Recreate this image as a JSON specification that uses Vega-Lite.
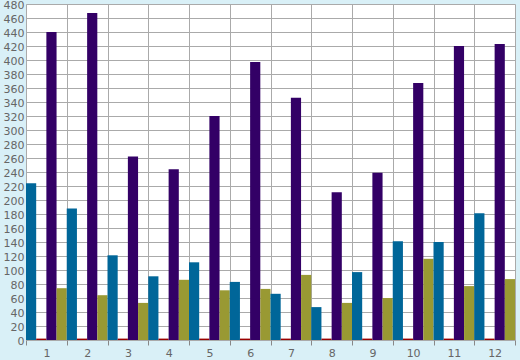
{
  "$schema": "https://vega.github.io/schema/vega-lite/v6.json",
  "autosize": {"type": "none"},
  "width": 489,
  "height": 336,
  "padding": {"left": 26, "top": 4, "right": 5, "bottom": 20},
  "background": "#d9f0f7",
  "config": {
    "view": {"fill": "#ffffff", "stroke": null},
    "axis": {"labelFont": "DejaVu Sans", "labelFontSize": 11, "labelColor": "#666666", "gridColor": "#aaaaaa", "gridOpacity": 1, "gridWidth": 1, "domainColor": "#aaaaaa", "tickColor": "#888888"}
  },
  "data": {"values": [
    {"group": 1, "series": "B", "value": 224}, {"group": 1, "series": "R", "value": 2}, {"group": 1, "series": "P", "value": 440}, {"group": 1, "series": "O", "value": 74},
    {"group": 2, "series": "B", "value": 188}, {"group": 2, "series": "R", "value": 2}, {"group": 2, "series": "P", "value": 467}, {"group": 2, "series": "O", "value": 64},
    {"group": 3, "series": "B", "value": 121}, {"group": 3, "series": "R", "value": 2}, {"group": 3, "series": "P", "value": 262}, {"group": 3, "series": "O", "value": 53},
    {"group": 4, "series": "B", "value": 91}, {"group": 4, "series": "R", "value": 2}, {"group": 4, "series": "P", "value": 244}, {"group": 4, "series": "O", "value": 86},
    {"group": 5, "series": "B", "value": 111}, {"group": 5, "series": "R", "value": 2}, {"group": 5, "series": "P", "value": 320}, {"group": 5, "series": "O", "value": 71},
    {"group": 6, "series": "B", "value": 83}, {"group": 6, "series": "R", "value": 2}, {"group": 6, "series": "P", "value": 397}, {"group": 6, "series": "O", "value": 73},
    {"group": 7, "series": "B", "value": 66}, {"group": 7, "series": "R", "value": 2}, {"group": 7, "series": "P", "value": 346}, {"group": 7, "series": "O", "value": 93},
    {"group": 8, "series": "B", "value": 47}, {"group": 8, "series": "R", "value": 2}, {"group": 8, "series": "P", "value": 211}, {"group": 8, "series": "O", "value": 53},
    {"group": 9, "series": "B", "value": 97}, {"group": 9, "series": "R", "value": 2}, {"group": 9, "series": "P", "value": 239}, {"group": 9, "series": "O", "value": 60},
    {"group": 10, "series": "B", "value": 141}, {"group": 10, "series": "R", "value": 2}, {"group": 10, "series": "P", "value": 367}, {"group": 10, "series": "O", "value": 116},
    {"group": 11, "series": "B", "value": 140}, {"group": 11, "series": "R", "value": 2}, {"group": 11, "series": "P", "value": 420}, {"group": 11, "series": "O", "value": 77},
    {"group": 12, "series": "B", "value": 181}, {"group": 12, "series": "R", "value": 2}, {"group": 12, "series": "P", "value": 423}, {"group": 12, "series": "O", "value": 87}
  ]},
  "mark": {"type": "bar"},
  "encoding": {
    "x": {
      "field": "group", "type": "ordinal", "title": null,
      "scale": {"paddingInner": 0, "paddingOuter": 0},
      "axis": {"labelAngle": 0, "tickBand": "extent", "grid": true, "domain": false, "ticks": true, "tickSize": 5, "labelPadding": 2}
    },
    "xOffset": {
      "field": "series", "type": "nominal", "sort": ["B", "R", "P", "O"],
      "scale": {"paddingInner": 0, "paddingOuter": 0}
    },
    "y": {
      "field": "value", "type": "quantitative", "title": null,
      "scale": {"domain": [0, 480], "nice": false},
      "axis": {"values": [0,20,40,60,80,100,120,140,160,180,200,220,240,260,280,300,320,340,360,380,400,420,440,460,480], "ticks": false, "labelPadding": 2, "labelOffset": 1, "domain": true, "grid": true}
    },
    "color": {
      "field": "series", "type": "nominal", "legend": null,
      "scale": {"domain": ["B", "R", "P", "O"], "range": ["#006699", "#990000", "#330066", "#999933"]}
    }
  }
}
